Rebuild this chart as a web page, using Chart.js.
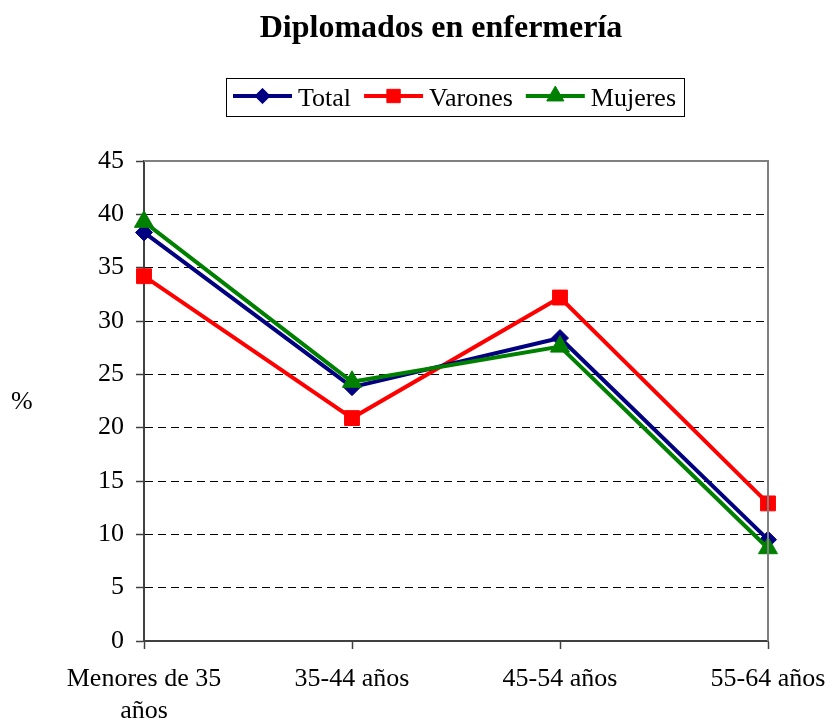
<!DOCTYPE html>
<html><head><meta charset="utf-8">
<script src="https://cdn.jsdelivr.net/npm/chart.js@4.4.1/dist/chart.umd.min.js"></script>
<style>html,body{margin:0;padding:0;background:#fff}#wrap{width:825px;height:725px}</style>
</head><body><div id="wrap"><canvas id="c" width="825" height="725"></canvas></div>
<script>
const chartTitle = "Diplomados en enfermería";
const yAxisLabel = "%";
const categories = [["Menores de 35", "años"], "35-44 años", "45-54 años", "55-64 años"];
const seriesNames = ["Total", "Varones", "Mujeres"];
const totalValues = [38.3, 23.8, 28.4, 9.5];
const varonesValues = [34.2, 20.9, 32.2, 12.9];
const mujeresValues = [39.3, 24.3, 27.6, 8.7];
const yMin = 0, yMax = 45, yStep = 5;

const FONT = "'Liberation Serif', 'Times New Roman', serif";
const colors = ["#000080", "#FF0000", "#008000"];
const styles = ["rectRot", "rect", "triangle"];
const radii = [8.5, 10.5, 11];

function drawMarker(ctx, style, x, y, r, color) {
  ctx.save();
  ctx.fillStyle = color; ctx.strokeStyle = color; ctx.lineWidth = 1;
  ctx.beginPath();
  if (style === "rectRot") {
    ctx.moveTo(x - r, y); ctx.lineTo(x, y - r); ctx.lineTo(x + r, y); ctx.lineTo(x, y + r);
  } else if (style === "rect") {
    const s = r * Math.SQRT1_2; ctx.rect(x - s, y - s, 2 * s, 2 * s);
  } else {
    for (let i = 0; i < 3; i++) {
      const a = i * 2 * Math.PI / 3;
      const px = x + Math.sin(a) * r, py = y - Math.cos(a) * r;
      if (i === 0) ctx.moveTo(px, py); else ctx.lineTo(px, py);
    }
  }
  ctx.closePath(); ctx.fill(); ctx.stroke();
  ctx.restore();
}

const decor = {
  id: "decor",
  afterDraw(chart) {
    const ctx = chart.ctx, ca = chart.chartArea;
    ctx.save();
    ctx.strokeStyle = "#808080"; ctx.lineWidth = 2;
    ctx.beginPath();
    ctx.moveTo(ca.left, ca.top); ctx.lineTo(ca.right, ca.top); ctx.lineTo(ca.right, ca.bottom);
    ctx.stroke();
    ctx.fillStyle = "#000";
    ctx.font = "bold 32px " + FONT;
    ctx.textAlign = "center"; ctx.textBaseline = "alphabetic";
    ctx.fillText(chartTitle, 441, 37);
    ctx.font = "26px " + FONT;
    ctx.textAlign = "left";
    ctx.fillText(yAxisLabel, 11, 409);
    const boxL = 226, boxT = 78, boxW = 458, boxH = 38;
    ctx.strokeStyle = "#000"; ctx.lineWidth = 1;
    ctx.strokeRect(boxL + 0.5, boxT + 0.5, boxW, boxH);
    let x = 233; const ly = 96;
    ctx.font = "26px " + FONT; ctx.textBaseline = "alphabetic";
    seriesNames.forEach((name, i) => {
      ctx.strokeStyle = colors[i]; ctx.lineWidth = 4;
      ctx.beginPath(); ctx.moveTo(x, ly); ctx.lineTo(x + 59, ly); ctx.stroke();
      drawMarker(ctx, styles[i], x + 29.5, ly, radii[i] * 0.9, colors[i]);
      ctx.fillStyle = "#000";
      ctx.fillText(name, x + 65, 106);
      x += 65 + ctx.measureText(name).width + 13;
    });
    ctx.restore();
  }
};

const seriesValues = [totalValues, varonesValues, mujeresValues];
const datasets = seriesNames.map((name, i) => ({
  label: name,
  data: seriesValues[i],
  borderColor: colors[i],
  backgroundColor: colors[i],
  borderWidth: 4,
  pointStyle: styles[i],
  pointRadius: radii[i],
  pointHoverRadius: radii[i],
  pointBorderWidth: 1,
  pointBackgroundColor: colors[i],
  pointBorderColor: colors[i],
  tension: 0,
  fill: false,
  order: [1, 2, 0][i]
}));

new Chart(document.getElementById("c"), {
  type: "line",
  data: { labels: categories, datasets },
  options: {
    responsive: false,
    animation: false,
    devicePixelRatio: 1,
    layout: { padding: { top: 161, right: 57, left: 0, bottom: 0 } },
    plugins: { legend: { display: false }, title: { display: false }, tooltip: { enabled: false } },
    scales: {
      x: {
        offset: false,
        afterFit(s) { s.height = 84; s.paddingLeft = 0; s.paddingRight = 0; },
        grid: { drawOnChartArea: false, drawTicks: true, tickLength: 8, tickColor: "#404040", tickWidth: 1.5 },
        border: { display: true, color: "#404040", width: 2 },
        ticks: { color: "#000", font: { family: FONT, size: 26, lineHeight: 1.2 }, padding: 15, maxRotation: 0, autoSkip: false }
      },
      y: {
        min: yMin, max: yMax,
        afterFit(s) { s.width = 144; s.paddingTop = 0; s.paddingBottom = 0; },
        grid: {
          color: (c) => (c.tick && (c.tick.value === yMin || c.tick.value === yMax)) ? "rgba(0,0,0,0)" : "#000",
          lineWidth: 1, drawTicks: true, tickLength: 8, tickColor: "#404040", tickWidth: 1.5
        },
        border: { display: true, color: "#404040", width: 2, dash: [8, 5] },
        ticks: { stepSize: yStep, color: "#000", font: { family: FONT, size: 26 }, padding: 12 }
      }
    }
  },
  plugins: [decor]
});
</script></body></html>
